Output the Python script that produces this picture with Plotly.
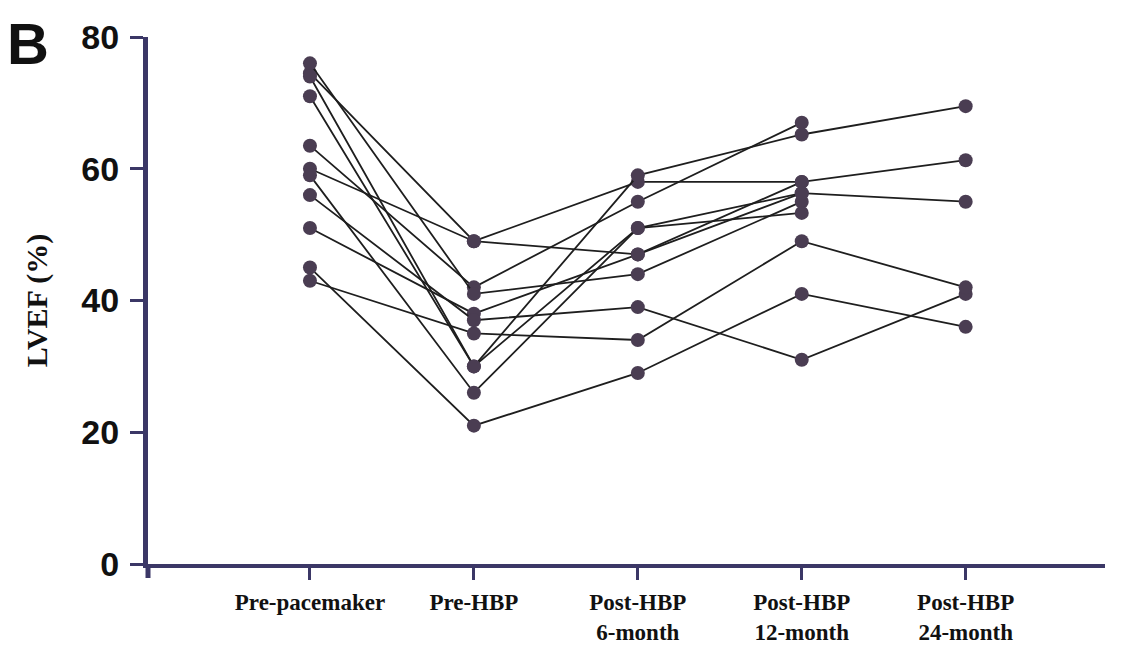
import plotly.graph_objects as go

categories = ["Pre-pacemaker", "Pre-HBP", "Post-HBP<br>6-month", "Post-HBP<br>12-month", "Post-HBP<br>24-month"]
y_ticks = [0, 20, 40, 60, 80]

pre_pacemaker = [74.5, 60, 63.5, 76, 51, 56, 43, 71, 74, 59, 45]
pre_hbp       = [49, 49, 42, 41, 38, 37, 35, 30, 30, 26, 21]
post_6m       = [58, 47, 55, 44, 47, 39, 34, 59, 51, 51, 29]
post_12m      = [58, 58, 67, 55, 56.3, 31, 49, 65.2, 53.3, 56.3, 41]
post_24m      = [61.3, None, None, None, 55, 41, 42, 69.5, None, None, 36]

axis_color = "#3b3766"
marker_color = "#4a3d52"

fig = go.Figure()
x_idx = list(range(len(categories)))
for i in range(len(pre_pacemaker)):
    ys = [pre_pacemaker[i], pre_hbp[i], post_6m[i], post_12m[i], post_24m[i]]
    fig.add_trace(go.Scatter(
        x=x_idx, y=ys, mode="lines+markers",
        line=dict(color="#1e1e1e", width=1.8),
        marker=dict(color=marker_color, size=14),
        showlegend=False, hoverinfo="skip", connectgaps=False,
    ))

# page has an 8px body margin, so the figure is 1106x636
PLOT_W, PLOT_H = 957, 527
fig.update_layout(
    width=1106, height=636,
    paper_bgcolor="white", plot_bgcolor="white",
    margin=dict(l=140, r=9, t=29, b=80, autoexpand=False),
    xaxis=dict(
        range=[-0.988, 4.85], tickvals=x_idx,
        ticktext=["<b>" + c.replace("<br>", "</b><br><b>") + "</b>" for c in categories],
        showline=True, linecolor=axis_color, linewidth=3.5,
        ticks="outside", ticklen=12, tickwidth=3, tickcolor=axis_color,
        showgrid=False, zeroline=False, automargin=False,
        tickfont=dict(family="Liberation Serif", size=23, color="#111"),
        ticklabelstandoff=3,
    ),
    yaxis=dict(
        range=[0, 80], tickvals=y_ticks, ticktext=["<b>%d</b>" % v for v in y_ticks],
        showline=True, linecolor=axis_color, linewidth=5,
        ticks="outside", ticklen=13, tickwidth=3, tickcolor=axis_color,
        showgrid=False, zeroline=False, automargin=False,
        tickfont=dict(family="Liberation Sans", size=34, color="#111"),
        ticklabelstandoff=4,
        title=dict(text="<b>LVEF (%)</b>", font=dict(family="Liberation Serif", size=30, color="#111"), standoff=26),
    ),
)

# y axis line extension below the x axis
fig.add_shape(type="line", xref="paper", yref="paper", x0=0, x1=0, y0=0, y1=-14/PLOT_H,
              line=dict(color=axis_color, width=5))

fig.add_annotation(text="<b>B</b>", xref="paper", yref="paper", x=-143/PLOT_W, y=1 + 28/PLOT_H,
                   xanchor="left", yanchor="top", showarrow=False,
                   font=dict(family="Liberation Sans", size=58, color="#111"))

fig.write_html("out.html")
